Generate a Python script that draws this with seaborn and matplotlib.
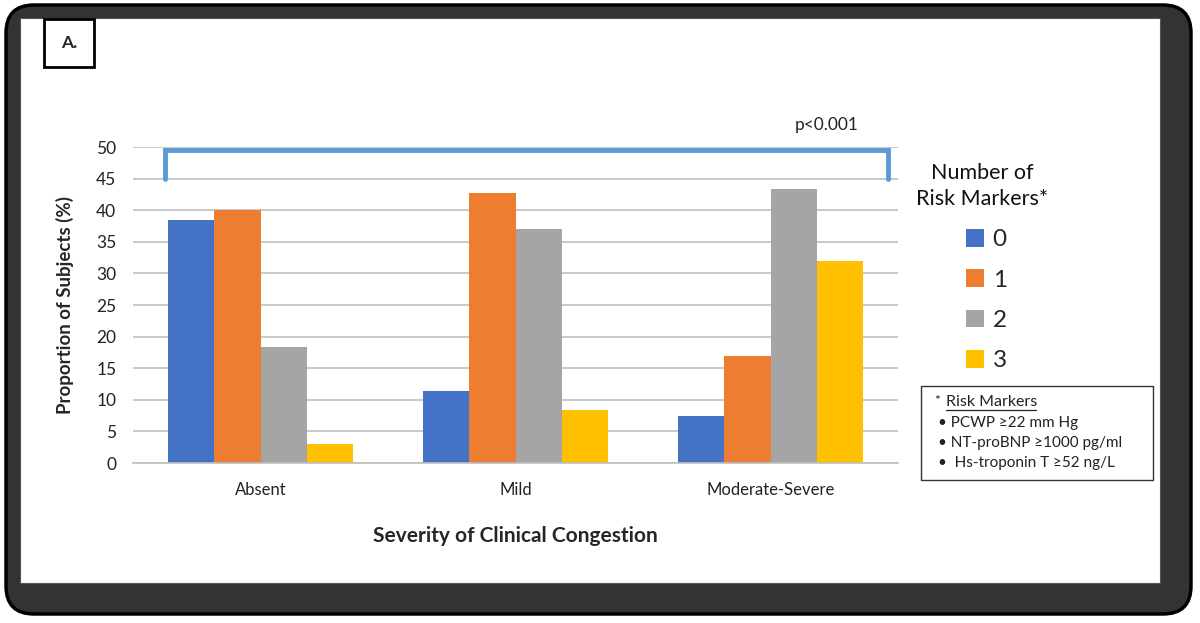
import numpy as np
import pandas as pd
import matplotlib.pyplot as plt
import seaborn as sns
from matplotlib.patches import FancyBboxPatch, Rectangle
from matplotlib.lines import Line2D

# data
severity = ["Absent", "Mild", "Moderate-Severe"]
markers = ["0", "1", "2", "3"]
vals_0 = [38.4, 11.4, 7.4]
vals_1 = [40.0, 42.8, 16.9]
vals_2 = [18.4, 37.0, 43.3]
vals_3 = [3.0, 8.4, 32.0]
colors = ["#4472C4", "#ED7D31", "#A5A5A5", "#FFC000"]
risk_lines = ["• PCWP ≥22 mm Hg", "• NT-proBNP ≥1000 pg/ml", "•  Hs-troponin T ≥52 ng/L"]

W, H = 1200, 623


def fx(px):
    return px / W


def fy(py):
    return 1 - py / H


def main():
    sns.set_style("white")
    plt.rcParams['font.family'] = ['Lato', 'DejaVu Sans']

    rows = []
    for m, vals in zip(markers, [vals_0, vals_1, vals_2, vals_3]):
        for s, v in zip(severity, vals):
            rows.append({"severity": s, "markers": m, "pct": v})
    df = pd.DataFrame(rows)

    fig = plt.figure(figsize=(W / 100, H / 100), dpi=100)
    fig.patch.set_facecolor("white")

    # dark rounded frame around a white panel
    frame = FancyBboxPatch((0.06, 0.09), 11.85, 6.09,
                           boxstyle="round,pad=0,rounding_size=0.28",
                           facecolor="#333333", edgecolor="black", lw=2.5,
                           transform=fig.dpi_scale_trans, zorder=-20)
    fig.add_artist(frame)
    panel = Rectangle((0.20, 0.40), 11.40, 5.65, facecolor="white",
                      edgecolor="#555555", lw=0.8,
                      transform=fig.dpi_scale_trans, zorder=-19)
    fig.add_artist(panel)

    ax = fig.add_axes([fx(133), fy(463), fx(898) - fx(133), fy(147) - fy(463)])
    ax.set_facecolor("white")
    ax.set_axisbelow(True)

    sns.barplot(df, x="severity", y="pct", hue="markers", palette=colors,
                width=0.725, gap=0, saturation=1, ax=ax, order=severity,
                hue_order=markers, edgecolor="none")

    ax.set_ylim(0, 50)
    ax.set_xlim(-0.5, 2.5)
    ax.set_yticks(np.arange(0, 51, 5))
    ax.yaxis.grid(True, color="#BFBFBF", lw=1.2)
    for sp in ["top", "right", "left"]:
        ax.spines[sp].set_visible(False)
    ax.spines["bottom"].set_color("#BFBFBF")
    ax.spines["bottom"].set_linewidth(1.2)
    ax.tick_params(axis="y", length=0, pad=12, labelsize=12.5, labelcolor="#222222")
    ax.tick_params(axis="x", length=0, pad=14, labelsize=12, labelcolor="#222222")
    ax.set_xlabel("Severity of Clinical Congestion", fontsize=15, fontweight="bold",
                  labelpad=20)
    ax.set_ylabel("Proportion of Subjects (%)", fontsize=13.5, fontweight="bold",
                  labelpad=16)

    # significance bracket
    ax.plot([-0.375, -0.375, 2.46, 2.46], [45, 49.5, 49.5, 45], color="#5B9BD5",
            lw=3.5, clip_on=False, solid_joinstyle="miter")
    ax.text(2.22, 53.5, "p<0.001", ha="center", va="center", fontsize=12.5,
            color="#222222")

    # legend
    fig.text(fx(982), fy(186), "Number of\nRisk Markers*", ha="center", va="center",
             fontsize=15.5, linespacing=1.4, color="#111111")
    sns.move_legend(ax, "upper left", bbox_to_anchor=(fx(966), fy(229)),
                    bbox_transform=fig.transFigure, title=None, frameon=False,
                    fontsize=17.5, handlelength=0.75, handleheight=0.75,
                    handletextpad=0.35, labelspacing=0.78, borderpad=0,
                    borderaxespad=0)

    # risk markers note box
    fig.add_artist(Rectangle((fx(921), fy(480)), fx(1153) - fx(921), fy(386) - fy(480),
                             facecolor="white", edgecolor="#333333", lw=1,
                             transform=fig.transFigure))
    fig.text(fx(934), fy(401), "*", fontsize=10, va="center", color="#222222")
    fig.text(fx(946), fy(402), "Risk Markers", fontsize=11.5, va="center", color="#222222")
    fig.add_artist(Line2D([fx(946), fx(1036)], [fy(410), fy(410)], color="#222222",
                          lw=0.9, transform=fig.transFigure))
    for i, line in enumerate(risk_lines):
        fig.text(fx(938), fy(423 + 20 * i), line, fontsize=11, va="center",
                 color="#222222")

    # panel label
    fig.text(fx(69), fy(43), "A.", ha="center", va="center", fontsize=12.5,
             fontweight="bold",
             bbox=dict(boxstyle="square,pad=0.95", facecolor="white",
                       edgecolor="black", lw=2))

    plt.savefig("out.png", dpi=100)
    plt.close()


if __name__ == "__main__":
    main()
